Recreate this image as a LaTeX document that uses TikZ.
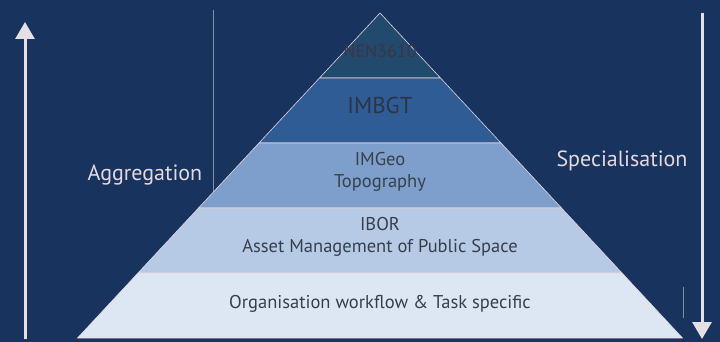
\documentclass[tikz,border=0pt]{standalone}
\usepackage{fontspec}
\setmainfont{PT Sans}
\usetikzlibrary{arrows.meta}
\definecolor{bgnavy}{HTML}{17335E}
\definecolor{lay1}{HTML}{224A6C}
\definecolor{lay2}{HTML}{2F5C95}
\definecolor{lay3}{HTML}{7E9FCC}
\definecolor{lay4}{HTML}{B6CAE6}
\definecolor{lay5}{HTML}{DDE7F4}
\definecolor{edgepink}{HTML}{D9C3CE}
\definecolor{txtdark}{HTML}{36404C}
\definecolor{txtnen}{HTML}{3E3446}
\definecolor{txtimbgt}{HTML}{2A3546}
\definecolor{txtlight}{HTML}{E6D9DE}
\definecolor{arrowcol}{HTML}{E4E0E4}
\tikzset{
  layer/.style={draw=edgepink!70!white, line width=0.6pt},
  laytext/.style={text=txtdark, font=\fontsize{18.5}{21}\selectfont, align=center, inner sep=0pt},
  sidetext/.style={text=txtlight, font=\fontsize{22}{25}\selectfont, inner sep=0pt},
  bigarrow/.style={draw=arrowcol, line width=3pt, -{Triangle[width=19pt,length=17pt]}},
  faintline/.style={draw=white!45!bgnavy, line width=0.5pt}
}
\begin{document}
\begin{tikzpicture}[x=1pt,y=-1pt]
\fill[bgnavy] (0,0) rectangle (720,342);
\useasboundingbox (0,0) rectangle (720,342);
% faint lines
\draw[faintline] (213,10) -- (213,338);
\draw[faintline] (683,287) -- (683,318);
% layers
\path[layer, fill=lay1] (380,13) -- (440.5,78) -- (319.5,78) -- cycle;
\path[layer, fill=lay2] (319.5,78) -- (440.5,78) -- (501,143) -- (259,143) -- cycle;
\path[layer, fill=lay3] (259,143) -- (501,143) -- (561.5,208) -- (198.5,208) -- cycle;
\path[layer, fill=lay4] (198.5,208) -- (561.5,208) -- (622,273) -- (138,273) -- cycle;
\path[layer, fill=lay5] (138,273) -- (622,273) -- (682.5,338) -- (77.5,338) -- cycle;
% texts
\node[laytext, text=txtnen, font=\fontsize{18}{21}\selectfont] (nen) at (380,51) {NEN3610};
\node[laytext, text=txtimbgt, font=\fontsize{23}{26}\selectfont] (imbgt) at (380,105) {IMBGT};
\node[laytext] (imgeo) at (380,172) {IMGeo\\[1pt]Topography};
\node[laytext] (ibor) at (380,236.5) {IBOR\\[1pt]Asset Management of Public Space};
\node[laytext] (org) at (380,304) {Organisation workflow \& Task specific};
\node[sidetext] (agg) at (145,175) {Aggregation};
\node[sidetext] (spec) at (622,161) {Specialisation};
% arrows
\coordinate (la0) at (25,339);
\coordinate (la1) at (25,22);
\coordinate (ra0) at (702,13);
\coordinate (ra1) at (702,339);
\draw[bigarrow] (la0) -- (la1);
\draw[bigarrow] (ra0) -- (ra1);
\end{tikzpicture}
\end{document}
